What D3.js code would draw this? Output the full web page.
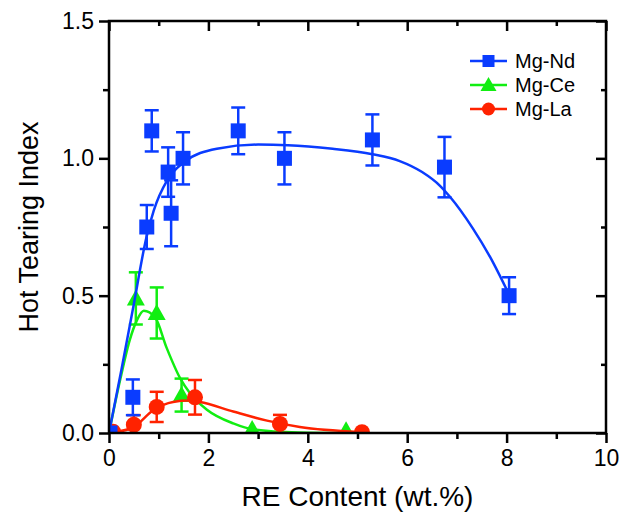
<!DOCTYPE html>
<html>
<head>
<meta charset="utf-8">
<script src="https://cdn.jsdelivr.net/npm/d3@7"></script>
<style>
body { margin: 0; background: #fff; }
svg { font-family: "Liberation Sans", Arial, sans-serif; }
</style>
</head>
<body>
<svg width="628" height="518"></svg>
<script>
// measured points: [RE content, index, error]
var ndData = [[0.02, 0, 0], [0.48, 0.13, 0.065], [0.76, 0.75, 0.08], [0.86, 1.10, 0.075], [1.19, 0.95, 0.09],
  [1.25, 0.80, 0.12], [1.49, 1.00, 0.095], [2.60, 1.10, 0.085], [3.53, 1.00, 0.095],
  [5.30, 1.067, 0.093], [6.75, 0.968, 0.11], [8.05, 0.50, 0.067]];
var ceData = [[0.02, 0, 0], [0.54, 0.49, 0.095], [0.96, 0.437, 0.093], [1.46, 0.138, 0.06],
  [2.88, 0.015, 0], [4.77, 0.01, 0]];
var laData = [[0.08, 0.005, 0], [0.50, 0.03, 0.035], [0.96, 0.095, 0.055], [1.73, 0.13, 0.063],
  [3.44, 0.033, 0.033], [5.09, 0.003, 0]];

// fitted curves
var ndFit = [[0, 0], [0.25, 0.23], [0.5, 0.47], [0.75, 0.71], [0.9, 0.81], [1.17, 0.92], [1.5, 0.985],
  [2.17, 1.035], [3.0, 1.05], [3.6, 1.048], [4.5, 1.035], [5.3, 1.015], [5.85, 0.99], [6.3, 0.95],
  [6.66, 0.90], [6.86, 0.86], [7.32, 0.745], [7.67, 0.64], [8.02, 0.515]];
var ceFit = [[0, 0], [0.22, 0.19], [0.42, 0.34], [0.56, 0.41], [0.7, 0.445], [0.93, 0.42], [1.16, 0.31],
  [1.43, 0.20], [1.63, 0.145], [1.97, 0.085], [2.5, 0.035], [2.9, 0.013], [3.8, 0.002], [4.77, 0]];
var laFit = [[0, 0], [0.48, 0.02], [0.89, 0.083], [1.29, 0.113], [1.6, 0.118], [1.83, 0.113], [2.5, 0.078],
  [3.18, 0.045], [3.84, 0.022], [5.05, 0.004]];

var series = [
  {name: "Mg-Ce", color: "#11ee11", shape: "triangle", data: ceData, fit: ceFit},
  {name: "Mg-La", color: "#ff2200", shape: "circle", data: laData, fit: laFit},
  {name: "Mg-Nd", color: "#0a3cff", shape: "square", data: ndData, fit: ndFit}
];
var legendOrder = ["Mg-Nd", "Mg-Ce", "Mg-La"];

var xMajor = [0, 2, 4, 6, 8, 10];
var xMinor = [1, 3, 5, 7, 9];
var yMajor = [0, 0.5, 1.0, 1.5];
var yMinor = [0.25, 0.75, 1.25];

var svg = d3.select("svg");
var pLeft = 109, pRight = 606, pTop = 21, pBottom = 433;

var x = d3.scaleLinear().domain([0, 10]).range([pLeft, pRight]);
var y = d3.scaleLinear().domain([0, 1.5]).range([pBottom, pTop]);

svg.append("clipPath").attr("id", "plot")
  .append("rect").attr("x", pLeft).attr("y", pTop)
  .attr("width", pRight - pLeft).attr("height", pBottom - pTop);

function drawAxis(axis, tr) {
  var g = svg.append("g").attr("transform", tr).call(axis);
  g.select(".domain").remove();
  g.selectAll(".tick line").attr("stroke", "#000").attr("stroke-width", 2.5);
  g.selectAll("text").attr("fill", "#000").style("font-size", "23px")
    .style("font-family", "'Liberation Sans', Arial, sans-serif");
  return g;
}

var line = d3.line()
  .x(function (d) { return x(d[0]); })
  .y(function (d) { return y(d[1]); })
  .curve(d3.curveMonotoneX);

function marker(sel, shape, color) {
  if (shape == "square") {
    sel.append("rect").attr("x", -7.5).attr("y", -7.5).attr("width", 15).attr("height", 15).attr("fill", color);
  } else if (shape == "triangle") {
    sel.append("path").attr("d", "M0,-9L9,7L-9,7Z").attr("fill", color);
  } else {
    sel.append("circle").attr("r", 8).attr("fill", color);
  }
}

series.forEach(function (s) {
  var g = svg.append("g").attr("clip-path", "url(#plot)");
  g.append("path")
    .datum(s.fit)
    .attr("d", line)
    .attr("fill", "none")
    .attr("stroke", s.color)
    .attr("stroke-width", 2.5);

  var eb = g.selectAll(".eb").data(s.data.filter(function (d) { return d[2] > 0; }))
    .enter().append("g")
    .attr("stroke", s.color).attr("stroke-width", 2.5);
  eb.append("line")
    .attr("x1", function (d) { return x(d[0]); }).attr("x2", function (d) { return x(d[0]); })
    .attr("y1", function (d) { return y(d[1] + d[2]); }).attr("y2", function (d) { return y(d[1] - d[2]); });
  eb.append("line")
    .attr("x1", function (d) { return x(d[0]) - 7; }).attr("x2", function (d) { return x(d[0]) + 7; })
    .attr("y1", function (d) { return y(d[1] + d[2]); }).attr("y2", function (d) { return y(d[1] + d[2]); });
  eb.append("line")
    .attr("x1", function (d) { return x(d[0]) - 7; }).attr("x2", function (d) { return x(d[0]) + 7; })
    .attr("y1", function (d) { return y(d[1] - d[2]); }).attr("y2", function (d) { return y(d[1] - d[2]); });

  g.selectAll(".pt").data(s.data).enter().append("g")
    .attr("transform", function (d) { return "translate(" + x(d[0]) + "," + y(d[1]) + ")"; })
    .each(function () { marker(d3.select(this), s.shape, s.color); });
});

// bottom
drawAxis(d3.axisBottom(x).tickValues(xMajor).tickSize(10).tickPadding(7).tickFormat(d3.format("d")), "translate(0," + pBottom + ")");
drawAxis(d3.axisBottom(x).tickValues(xMinor).tickSize(6).tickFormat(""), "translate(0," + pBottom + ")");
// left
drawAxis(d3.axisLeft(y).tickValues(yMajor).tickSize(10).tickPadding(5).tickFormat(d3.format(".1f")), "translate(" + pLeft + ",0)");
drawAxis(d3.axisLeft(y).tickValues(yMinor).tickSize(6).tickFormat(""), "translate(" + pLeft + ",0)");
// top, inward
drawAxis(d3.axisTop(x).tickValues(xMajor).tickSize(-10).tickFormat(""), "translate(0," + pTop + ")");
drawAxis(d3.axisTop(x).tickValues(xMinor).tickSize(-5).tickFormat(""), "translate(0," + pTop + ")");
// right, inward
drawAxis(d3.axisRight(y).tickValues(yMajor).tickSize(-10).tickFormat(""), "translate(" + pRight + ",0)");
drawAxis(d3.axisRight(y).tickValues(yMinor).tickSize(-5).tickFormat(""), "translate(" + pRight + ",0)");

svg.append("rect")
  .attr("x", pLeft).attr("y", pTop)
  .attr("width", pRight - pLeft).attr("height", pBottom - pTop)
  .attr("fill", "none").attr("stroke", "#000").attr("stroke-width", 2.5);

svg.append("text")
  .attr("x", (pLeft + pRight) / 2).attr("y", 506)
  .attr("text-anchor", "middle").style("font-size", "28px")
  .text("RE Content (wt.%)");
svg.append("text")
  .attr("transform", "translate(38," + (pTop + pBottom) / 2 + ") rotate(-90)")
  .attr("text-anchor", "middle").style("font-size", "27px")
  .text("Hot Tearing Index");

// legend
var leg = svg.append("g");
legendOrder.forEach(function (name, i) {
  var s = series.filter(function (d) { return d.name == name; })[0];
  var yy = 61 + i * 24;
  leg.append("line").attr("x1", 470).attr("x2", 507).attr("y1", yy).attr("y2", yy)
    .attr("stroke", s.color).attr("stroke-width", 2.5);
  var m = leg.append("g").attr("transform", "translate(488.5," + yy + ")");
  if (s.shape == "square") m.append("rect").attr("x", -6).attr("y", -6).attr("width", 12).attr("height", 12).attr("fill", s.color);
  else if (s.shape == "triangle") m.append("path").attr("d", "M0,-8L8,6L-8,6Z").attr("fill", s.color);
  else m.append("circle").attr("r", 6.5).attr("fill", s.color);
  leg.append("text").attr("x", 515).attr("y", yy + 7).style("font-size", "20px").text(name);
});
</script>
</body>
</html>
